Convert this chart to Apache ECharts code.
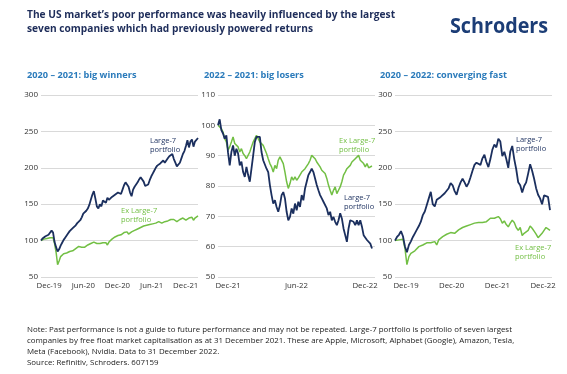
<!DOCTYPE html>
<html><head><meta charset="utf-8">
<script src="https://cdn.jsdelivr.net/npm/echarts@6/dist/echarts.min.js"></script>
<style>html,body{margin:0;padding:0;background:#fff}#c{width:567px;height:374px}</style>
</head><body><div id="c"></div>
<script>
// ---- Data ----
const p1Labels = ['Dec-19','Jun-20','Dec-20','Jun-21','Dec-21'];
const p2Labels = ['Dec-21','Jun-22','Dec-22'];
const p3Labels = ['Dec-19','Dec-20','Dec-21','Dec-22'];

// Panel 1: 2020-2021 weekly
const p1Large7 = [100,103,105,106,107,108,110,114,111,98,
  91,85,88,93,97,101,104,106,110,113,
  114,117,119,121,124,126,128,132,137,139,
  141,144,149,156,163,168,158,147,144,150,
  147,155,155,152,159,156,157,160,161,163,
  164,166,165,164,170,176,180,177,174,166,
  161,170,174,175,180,184,187,185,181,175,
  173,177,183,188,192,196,200,203,205,206,
  208,210,207,210,213,216,217,219,212,207,
  202,200,207,213,219,223,230,238,228,236,
  239,229,236,238,241];
const p1ExLarge7 = [100,101,102,103,103,104,104,105,104,96,
  84,67,72,78,80,82,81,83,84,85,
  84,86,88,89,91,92,90,91,92,91,
  93,94,95,96,97,98,97,96,95,96,
  95,97,99,97,94,98,100,102,104,105,
  107,107,108,108,109,111,111,112,109,111,
  112,113,114,115,116,117,118,119,120,121,
  121,122,122,123,123,124,124,125,126,125,
  124,126,126,125,127,128,129,130,129,127,
  126,128,129,130,131,130,128,127,131,133,
  132,128,131,133,134];

// Panel 2: 2022, twice-weekly
const p2Large7 = [100,102,98.4,97.3,95.6,96.7,91,86.8,91.2,93.4,
  90,92.3,90.7,86.8,88,84.6,83,86.3,83.6,81.4,
  85.7,90,94.5,96.2,95.6,96.2,91.2,88.5,88,85.7,
  84.6,80.3,77,74.2,75.3,73.1,71.5,73.7,77,78,
  75.9,71.5,68.7,69.8,72.6,70.9,74.2,72,74.8,73.1,
  77,75.3,79.2,81.4,83.6,84.6,85.7,84.6,82.5,80.3,
  78.6,77,75.9,74.8,74.2,72.6,70.4,71.5,68.7,69.8,
  68.2,67.1,68.7,71,69.3,66,63.8,61.6,66,68.7,
  68.7,68.2,67.1,68.7,67.1,68.7,66.6,63.8,63.3,62.2,
  61.6,61,59.4];
const p2ExLarge7 = [100,99.5,98.9,97.8,95.6,94.5,91.8,92.9,94.5,96.2,
  94,94.5,92.9,91.2,92.3,90.7,90,89,89.6,91.2,
  92.9,94.5,95.6,96.7,95.6,94.5,94,93.4,92.9,90.7,
  89,87.4,86.3,84.6,86.8,85.7,88.5,89.6,89,87.4,
  84.6,81.4,79.2,80.8,83,81.9,83,81.9,82.7,83.3,
  84.6,84.1,85.7,86.3,87.4,88.5,90.1,90.7,89,87.9,
  87.4,86.3,85.2,85.7,84.1,82.5,80.3,78.6,77,78.6,
  79.7,77.5,78.6,79.7,81.4,83.6,84.6,85.7,85.2,86.8,
  87.9,88.5,89,89.6,90.1,88.5,89,87.4,86.3,87.4,
  86,86.3,86.6];

// Panel 3: 2020-2022, fortnightly
const p3Large7 = [100,105,108,113,106,92,84,94,99,105,
  110,115,120,126,135,140,149,158,167,150,
  147,156,158,160,162,165,164,172,179,176,
  168,163,173,180,185,180,174,179,187,196,
  204,207,208,204,213,218,208,201,212,225,
  232,228,240,236,216,222,212,200,222,230,
  212,198,180,176,166,175,180,192,205,196,
  185,172,163,158,150,162,164,160,142];
const p3ExLarge7 = [100,102,101,103,102,89.5,67,78,82.6,83.5,
  86,88,91.7,90.8,94,95.4,97,98.6,97,95.4,
  98.6,94,101,103,105.5,108,108.7,110,111,112.4,
  110,112.4,114.7,115.6,118,119,120,121,122,123,
  124,124,125,126,125,127.5,126,128.4,130.7,128.4,
  130.7,132,133,130,124,127,122,119,124,128,
  125,118,114,118,107,110,111,114,120,117,
  113,109,104,103,110,114,118,117,114];

// ---- Styling ----
const NAVY = '#1b2f5e', GREEN = '#72bf44', BLUE = '#2b7bbb', FONT = 'Open Sans';
const grids = [
  {left:41, top:95, width:157, height:182},
  {left:218, top:95, width:157, height:182},
  {left:395, top:95, width:157, height:182}
];
const panels = [
  {labels:p1Labels, navy:p1Large7, green:p1ExLarge7, dataMax:104, lmin:-0.24, lmax:4.36, ymin:50, ymax:300, yint:50},
  {labels:p2Labels, navy:p2Large7, green:p2ExLarge7, dataMax:93.8, lmin:-0.146, lmax:2.146, ymin:50, ymax:110, yint:10},
  {labels:p3Labels, navy:p3Large7, green:p3ExLarge7, dataMax:79, lmin:-0.241, lmax:3.197, ymin:50, ymax:300, yint:50}
];
const xAxis = [], yAxis = [], series = [];
panels.forEach((p, i) => {
  xAxis.push({type:'value', gridIndex:i, min:0, max:p.dataMax, show:false});
  xAxis.push({type:'value', gridIndex:i, min:p.lmin, max:p.lmax, position:'bottom',
    axisLine:{show:false}, axisTick:{show:false}, splitLine:{show:false},
    axisLabel:{customValues:p.labels.map((_, k) => k), formatter:v => p.labels[Math.round(v)],
      fontSize:7.8, color:'#333', fontFamily:FONT, margin:5}});
  yAxis.push({type:'value', gridIndex:i, min:p.ymin, max:p.ymax, interval:p.yint,
    axisLine:{show:false}, axisTick:{show:false},
    splitLine:{show:true, lineStyle:{color:'#d9d9d9', width:1}},
    axisLabel:{fontSize:8, color:'#333', fontFamily:FONT, margin:3}});
  series.push({type:'line', xAxisIndex:2*i, yAxisIndex:i, showSymbol:false, animation:false,
    data:p.green.map((v, k) => [k, v]), lineStyle:{color:GREEN, width:1.5}, itemStyle:{color:GREEN}, z:2});
  series.push({type:'line', xAxisIndex:2*i, yAxisIndex:i, showSymbol:false, animation:false,
    data:p.navy.map((v, k) => [k, v]), lineStyle:{color:NAVY, width:1.8}, itemStyle:{color:NAVY}, z:3});
});

function txt(x, y, text, o) {
  return Object.assign({type:'text', x:x, y:y, silent:true,
    style:Object.assign({text:text, fontFamily:FONT, align:'left', verticalAlign:'top'}, o.style)}, o.el || {});
}
const graphic = [
  txt(27, 15, "The US market’s poor performance was heavily influenced by the largest\nseven companies which had previously powered returns",
    {style:{fontSize:10.2, fontWeight:'bold', fill:'#1e2d5a', lineHeight:14, verticalAlign:'middle'}, el:{y:22}}),
  txt(450, 27, 'Schroders', {style:{fontSize:21, fontWeight:'bold', fill:'#1c3d76', verticalAlign:'middle'}, el:{scaleX:0.94}}),
  txt(27, 75, '2020 – 2021: big winners', {style:{fontSize:9.2, fontWeight:'bold', fill:BLUE, verticalAlign:'middle'}}),
  txt(204, 75, '2022 – 2021: big losers', {style:{fontSize:9.2, fontWeight:'bold', fill:BLUE, verticalAlign:'middle'}}),
  txt(380, 75, '2020 – 2022: converging fast', {style:{fontSize:9.2, fontWeight:'bold', fill:BLUE, verticalAlign:'middle'}}),
  txt(150, 136.5, 'Large-7\nportfolio', {style:{fontSize:7.5, fill:NAVY, lineHeight:9}}),
  txt(121, 206.5, 'Ex Large-7\nportfolio', {style:{fontSize:7.5, fill:GREEN, lineHeight:9}}),
  txt(339, 136.5, 'Ex Large-7\nportfolio', {style:{fontSize:7.5, fill:GREEN, lineHeight:9}}),
  txt(344, 193.5, 'Large-7\nportfolio', {style:{fontSize:7.5, fill:NAVY, lineHeight:9}}),
  txt(516, 135.5, 'Large-7\nportfolio', {style:{fontSize:7.5, fill:NAVY, lineHeight:9}}),
  txt(515, 243.5, 'Ex Large-7\nportfolio', {style:{fontSize:7.5, fill:GREEN, lineHeight:9}}),
  txt(27, 324.5, 'Note: Past performance is not a guide to future performance and may not be repeated. Large-7 portfolio is portfolio of seven largest\ncompanies by free float market capitalisation as at 31 December 2021. These are Apple, Microsoft, Alphabet (Google), Amazon, Tesla,\nMeta (Facebook), Nvidia. Data to 31 December 2022.\nSource: Refinitiv, Schroders. 607159',
    {style:{fontSize:7.9, fill:'#222', lineHeight:10.8}})
];

const chart = echarts.init(document.getElementById('c'), null, {renderer:'canvas'});
chart.setOption({animation:false, backgroundColor:'#fff', grid:grids, xAxis:xAxis, yAxis:yAxis, series:series, graphic:graphic});
</script></body></html>
